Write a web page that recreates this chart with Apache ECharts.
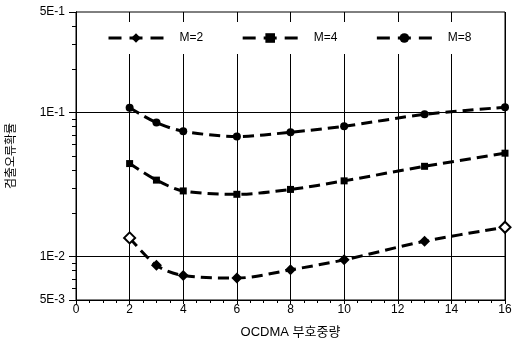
<!DOCTYPE html>
<html><head><meta charset="utf-8">
<script src="https://cdn.jsdelivr.net/npm/echarts@6/dist/echarts.min.js"></script>
<style>html,body{margin:0;padding:0;background:#fff}#c{width:517px;height:341px}</style>
</head><body><div id="c"></div>
<script>
const xValues = [2, 3, 4, 6, 8, 10, 13, 16];
const seriesNames = ['M=2', 'M=4', 'M=8'];
const m2 = [0.0135, 0.0087, 0.0074, 0.0071, 0.0081, 0.0095, 0.0128, 0.016];
const m4 = [0.0443, 0.034, 0.0286, 0.0271, 0.0293, 0.0336, 0.0424, 0.0523];
const m8 = [0.108, 0.0853, 0.0743, 0.0683, 0.0731, 0.0805, 0.0973, 0.109];
const yMajorTicks = [0.5, 0.1, 0.01, 0.005];
const yTickLabels = ['5E-1', '1E-1', '1E-2', '5E-3'];
const yMinorTicks = [0.006, 0.007, 0.008, 0.009, 0.02, 0.03, 0.04, 0.05, 0.06, 0.07, 0.08, 0.09, 0.2, 0.3, 0.4];
const yGridLines = [0.1, 0.01];
const xTitle = 'OCDMA 부호중량';
const yTitle = '검출오류확률';

const L = Math.log10;
const FONT = "'Liberation Sans', 'Noto Sans CJK KR', sans-serif";
const yMin = L(0.005), yMax = L(0.5);
const labelMap = {};
yMajorTicks.forEach((v, i) => { labelMap[L(v).toFixed(4)] = yTickLabels[i]; });

function mk(arr, hollowEnds) {
  return arr.map((v, i) => {
    const d = { value: [xValues[i], L(v)] };
    if (hollowEnds && (i === 0 || i === arr.length - 1)) {
      d.itemStyle = { color: '#fff', borderColor: '#000', borderWidth: 2 };
    }
    return d;
  });
}
const lineBase = { type: 'line', smooth: 0.3, color: '#000',
  lineStyle: { color: '#000', width: 3, type: [11, 6] }, itemStyle: { color: '#000' }, z: 5 };

const chart = echarts.init(document.getElementById('c'), null, { renderer: 'canvas' });
chart.setOption({
  animation: false,
  backgroundColor: '#fff',
  textStyle: { fontFamily: FONT },
  grid: { left: 76, right: 12, top: 12, bottom: 41, show: true, borderColor: '#000', borderWidth: 1,
    backgroundColor: 'transparent', containLabel: false, outerBoundsMode: 'none' },
  legend: {
    data: seriesNames, top: 22, left: 87, padding: [10, 20], backgroundColor: '#fff',
    itemWidth: 55, itemHeight: 12, itemGap: 38,
    lineStyle: { type: [13, 8], width: 3 },
    textStyle: { fontFamily: FONT, fontSize: 12, color: '#000', padding: [0, 0, 0, 11] }
  },
  xAxis: {
    type: 'value', min: 0, max: 16, interval: 2,
    name: xTitle, nameLocation: 'middle', nameGap: 26,
    nameTextStyle: { fontFamily: FONT, fontSize: 13, color: '#000' },
    axisLine: { lineStyle: { color: '#000', width: 1 } },
    axisTick: { show: true, length: 4, lineStyle: { color: '#000' } },
    minorTick: { show: true, splitNumber: 4, length: 3, lineStyle: { color: '#000' } },
    axisLabel: { fontFamily: FONT, fontSize: 12, color: '#000', margin: 4 },
    splitLine: { show: true, lineStyle: { color: '#000', width: 1 } }
  },
  yAxis: [{
    type: 'value', min: yMin, max: yMax,
    name: yTitle, nameLocation: 'middle', nameGap: 58,
    nameTextStyle: { fontFamily: FONT, fontSize: 12, color: '#000' },
    axisLine: { show: true, lineStyle: { color: '#000', width: 1 } },
    axisTick: { show: true, length: 4, customValues: yMajorTicks.concat(yMinorTicks).map(L), lineStyle: { color: '#000' } },
    axisLabel: { fontFamily: FONT, fontSize: 12, color: '#000', margin: 11,
      customValues: yMajorTicks.map(L), formatter: v => labelMap[v.toFixed(4)] || '' },
    splitLine: { show: false }
  }, {
    type: 'value', min: yMin, max: yMax, position: 'left', offset: 0,
    axisLine: { show: true, lineStyle: { color: '#000', width: 1 } },
    axisTick: { show: true, length: 7, customValues: yMajorTicks.map(L), lineStyle: { color: '#000' } },
    axisLabel: { show: false },
    splitLine: { show: false }
  }],
  series: [
    Object.assign({}, lineBase, { name: seriesNames[0], symbol: 'diamond', symbolSize: 11, data: mk(m2, true),
      markLine: { silent: true, symbol: 'none', label: { show: false }, animation: false,
        lineStyle: { color: '#000', width: 1, type: 'solid' },
        data: yGridLines.map(v => ({ yAxis: L(v) })) } }),
    Object.assign({}, lineBase, { name: seriesNames[1], symbol: 'rect', symbolSize: 7, yAxisIndex: 1, data: mk(m4, false) }),
    Object.assign({}, lineBase, { name: seriesNames[2], symbol: 'circle', symbolSize: 8, data: mk(m8, false) })
  ]
});
</script></body></html>
